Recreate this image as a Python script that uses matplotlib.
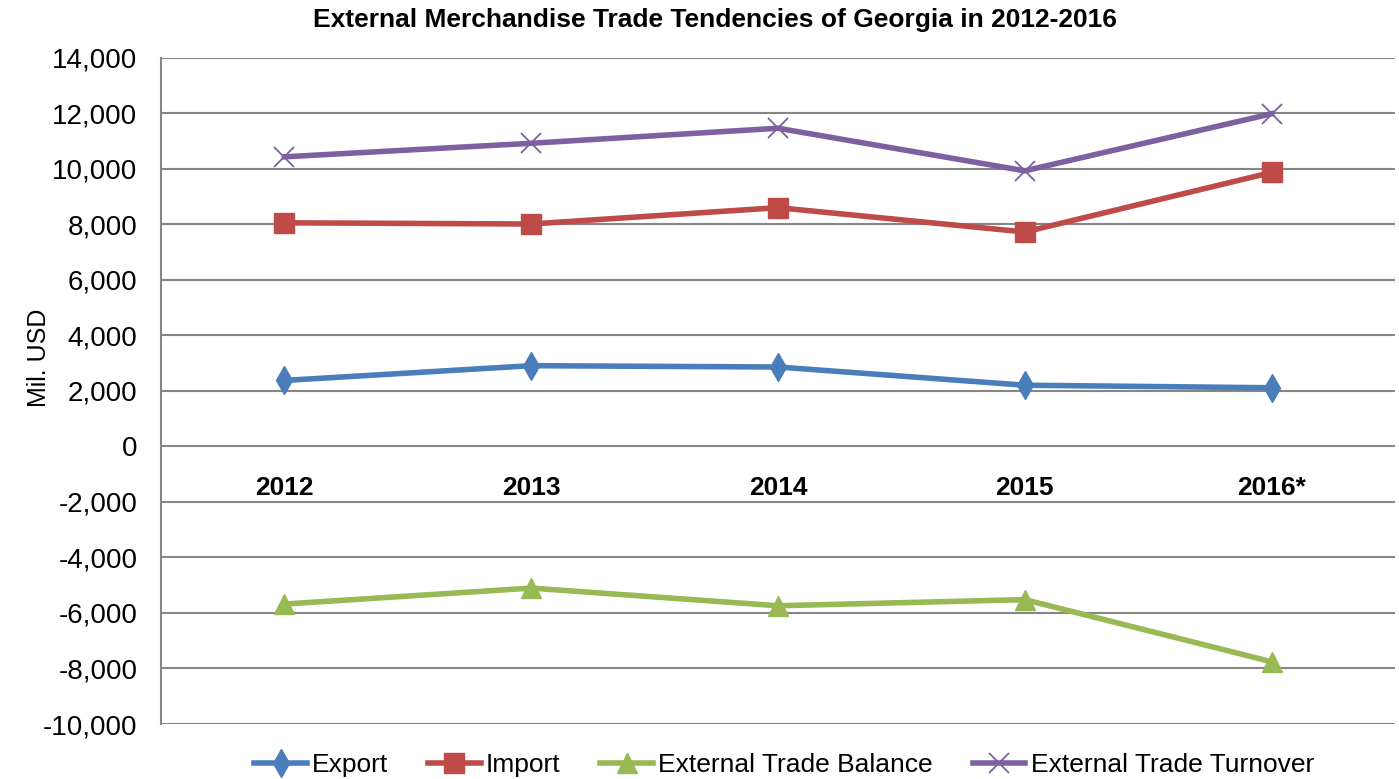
import matplotlib
matplotlib.use("Agg")
import matplotlib.pyplot as plt
from matplotlib.ticker import FuncFormatter

years = ["2012", "2013", "2014", "2015", "2016*"]
export = [2376.6, 2908.5, 2861.0, 2204.7, 2113.0]
imports = [8055.8, 8012.3, 8601.6, 7724.3, 9871.0]
balance = [-5679.2, -5103.8, -5740.6, -5519.6, -7758.0]
turnover = [10432.4, 10920.8, 11462.6, 9929.0, 11984.0]

plt.rcParams['font.family'] = ['Liberation Sans', 'DejaVu Sans']

fig = plt.figure(figsize=(13.99, 7.79), dpi=100)
ax = fig.add_axes([161/1399, 1-724/779, (1395-161)/1399, (724-57.8)/779])

x = list(range(len(years)))
lw = 4.0
ax.plot(x, export, color='#4A7EBB', lw=lw, marker='d', markersize=14, label='Export', zorder=3)
ax.plot(x, imports, color='#BE4B48', lw=lw, marker='s', markersize=14, label='Import', zorder=3)
ax.plot(x, balance, color='#98B954', lw=lw, marker='^', markersize=14, label='External Trade Balance', zorder=3)
ax.plot(x, turnover, color='#7D60A0', lw=lw, marker='x', markersize=14, markeredgewidth=1.3,
        label='External Trade Turnover', zorder=3)

ax.set_xlim(-0.5, 4.5)
ax.set_ylim(-10000, 14000)
ax.set_yticks(range(-10000, 14001, 2000))
ax.yaxis.set_major_formatter(FuncFormatter(lambda v, p: f"{int(v):,}"))
ax.set_xticks([])
ax.tick_params(axis='y', length=0, pad=17, labelsize=20)
ax.grid(axis='y', color='#868686', lw=1.5, zorder=1)
for s in ['top', 'right', 'bottom']:
    ax.spines[s].set_visible(False)
ax.spines['left'].set_color('#868686')
ax.spines['left'].set_linewidth(1.5)

for i, y in enumerate(years):
    ax.text(i, -1500, y, ha='center', va='center', fontsize=19, fontweight='bold')

ax.set_ylabel('Mil. USD', fontsize=18, labelpad=12)
ax.yaxis.set_label_coords(-110/1234, 0.55)

fig.text(715/1399, 1-20/779, 'External Merchandise Trade Tendencies of Georgia in 2012-2016',
         ha='center', va='center', fontsize=19, fontweight='bold')

leg = fig.legend(loc='center', bbox_to_anchor=(784/1399, 1-765/779), ncol=4, frameon=False,
                 fontsize=19, handlelength=2.0, columnspacing=1.5, handletextpad=0.2)

fig.savefig('out.png', dpi=100)
